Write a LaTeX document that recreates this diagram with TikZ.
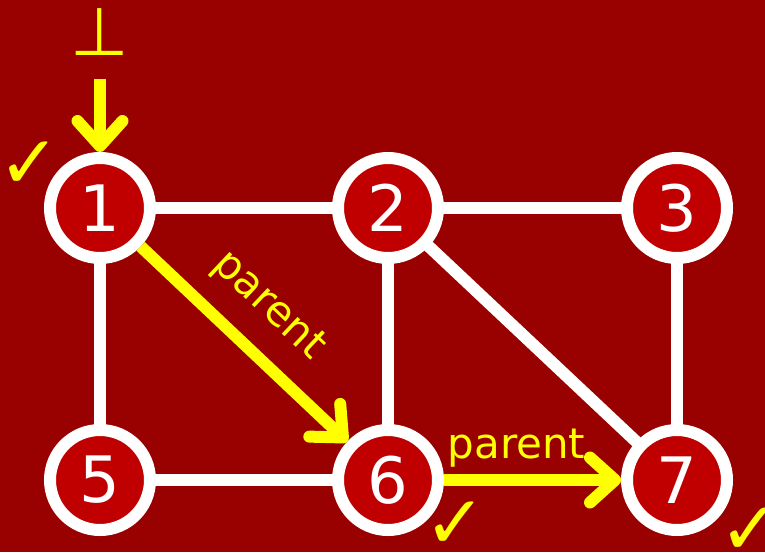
\documentclass[tikz,border=0pt]{standalone}
\usepackage{fontspec}
\setmainfont{DejaVu Sans}
\usetikzlibrary{arrows.meta}
\definecolor{bgred}{RGB}{153,0,0}
\definecolor{vertexred}{RGB}{192,0,0}
\definecolor{markyellow}{RGB}{255,255,0}
\pgfdeclarelayer{back}
\pgfsetlayers{back,main}
\begin{document}
\begin{tikzpicture}[x=1pt,y=-1pt,
  vertex/.style={circle, draw=white, fill=vertexred, line width=12pt,
    minimum size=100pt, inner sep=0pt, text=white,
    font=\fontsize{64}{64}\selectfont},
  edge/.style={draw=white, line width=12pt},
  parentarrow/.style={draw=markyellow, line width=12pt,
    -{Straight Barb[length=25pt,width=45pt,round]}},
  lbl/.style={text=markyellow, font=\fontsize{42}{42}\selectfont},
  tick/.style={text=markyellow, inner sep=0pt, font=\bfseries\fontsize{74}{74}\selectfont}]
\useasboundingbox (0,0) rectangle (765,552);

% vertices
\node[vertex] (n1) at (100,208) {1};
\node[vertex] (n2) at (388,208) {2};
\node[vertex] (n3) at (677,208) {3};
\node[vertex] (n5) at (100,480) {5};
\node[vertex] (n6) at (388,480) {6};
\node[vertex] (n7) at (677,480) {7};

% background and undirected edges
\begin{pgfonlayer}{back}
  \fill[bgred] (0,0) rectangle (765,552);
  \draw[edge] (n1.center) -- (n2.center);
  \draw[edge] (n2.center) -- (n3.center);
  \draw[edge] (n1.center) -- (n5.center);
  \draw[edge] (n2.center) -- (n6.center);
  \draw[edge] (n3.center) -- (n7.center);
  \draw[edge] (n5.center) -- (n6.center);
  \draw[edge] (n2.center) -- (n7.center);
\end{pgfonlayer}

% root marker
\node[lbl, font=\fontsize{67}{67}\selectfont] (bot) at (100,32) {⊥};
\coordinate (rootstart) at (100,79);
\draw[parentarrow] (rootstart) -- (n1);

% parent pointers
\draw[parentarrow] (n1) -- node[lbl, sloped, pos=0.47, above=16pt] (p16) {parent} (n6);
\draw[parentarrow] (n6) -- node[lbl, pos=0.41, above=3pt] (p67) {parent} (n7);

% visited marks
\node[tick] (c1) at (30,165) {✓};
\node[tick] (c6) at (455,525) {✓};
\node[tick] (c7) at (750,531) {✓};
\end{tikzpicture}
\end{document}
